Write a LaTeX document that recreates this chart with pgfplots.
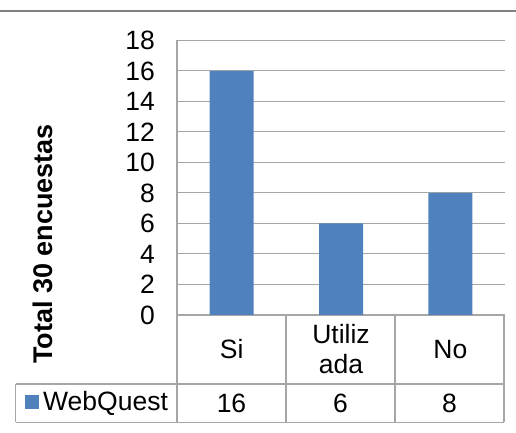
\documentclass[border=0pt]{standalone}
\usepackage{fontspec}
\setmainfont{Liberation Sans}
\usepackage{pgfplots}
\pgfplotsset{compat=1.18}
\definecolor{barblue}{HTML}{4F81BD}
\definecolor{gridgray}{HTML}{A6A6A6}
\definecolor{topgray}{HTML}{808080}
\newcommand{\fs}{\fontsize{26.5}{30}\selectfont}
\begin{document}
\begin{tikzpicture}[x=1pt,y=1pt]
\useasboundingbox (0,0) rectangle (516,433);
\draw[line width=1.8pt, topgray] (0,422) -- (516,422);
\begin{axis}[
  at={(177pt,118pt)}, anchor=south west, scale only axis,
  width=328pt, height=274.5pt,
  xmin=-0.5, xmax=2.5, ymin=0, ymax=18,
  ybar, bar width=44pt,
  ytick={0,2,...,18},
  xtick={0,1,2}, xticklabels={Si,Utiliz\\ada,No},
  /pgf/number format/assume math mode=true,
  major tick length=0pt,
  axis lines*=left,
  axis line style={gridgray, line width=1.2pt},
  ymajorgrids, grid style={gridgray, line width=1pt},
  tick label style={font=\fs},
  yticklabel style={anchor=east, inner sep=0pt, xshift=-22pt},
  xticklabel style={align=center, anchor=center, inner sep=0pt, yshift=-34.5pt},
  clip=false,
]
\addplot[fill=barblue, draw=none] coordinates {(0,16) (1,6) (2,8)};
\end{axis}
% data table
\draw[gridgray, line width=1.2pt] (15.7,49) -- (504,49);
\draw[gridgray, line width=1.2pt] (15.7,10.7) -- (504,10.7);
\draw[gridgray, line width=1.2pt] (15.7,10.7) -- (15.7,49);
\foreach \xx in {177,286,395,504} {\draw[gridgray, line width=1.2pt] (\xx,10.7) -- (\xx,118);}
\fill[barblue] (25,24) rectangle (38.5,37.5);
\node[anchor=west, inner sep=0pt, font=\fs] at (43,30) {WebQuest};
\node[font=\fs] at (231.5,30) {16};
\node[font=\fs] at (340.5,30) {6};
\node[font=\fs] at (449.5,30) {8};
\node[rotate=90, font=\fontsize{27}{30}\selectfont\bfseries] at (42.5,189) {Total 30 encuestas};
\end{tikzpicture}
\end{document}
